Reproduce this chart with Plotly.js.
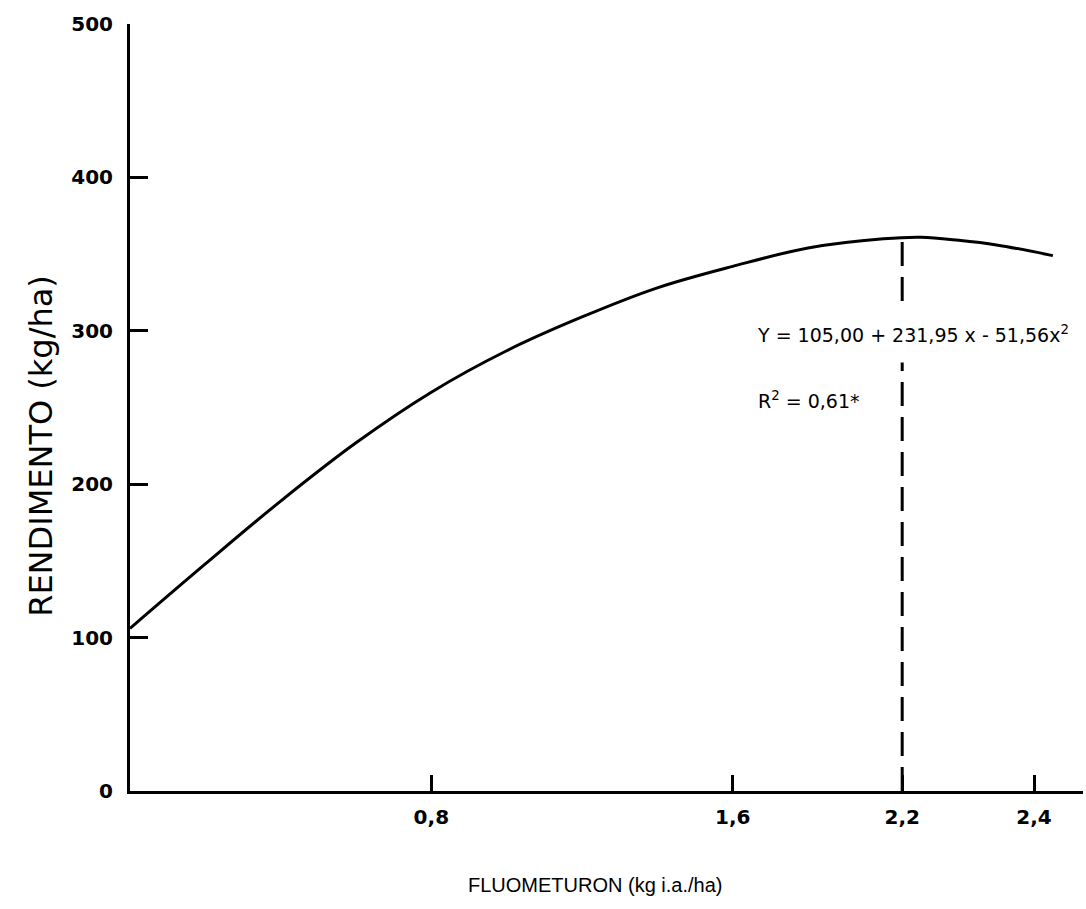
<!DOCTYPE html>
<html>
<head>
<meta charset="utf-8">
<script src="https://cdn.plot.ly/plotly-3.0.1.min.js"></script>
<style>html,body{margin:0;padding:0;background:#fff;}#chart{width:1086px;height:909px;}</style>
</head>
<body>
<div id="chart"></div>
<script>
// Fitted yield curve (dose in kg i.a./ha, yield in kg/ha)
const doseX = [0, 0.2, 0.4, 0.6, 0.8, 1.0, 1.2, 1.4, 1.6, 1.8, 2.0, 2.1, 2.2, 2.3, 2.45];
const yieldY = [106, 148, 189, 227, 260, 287, 309, 328, 342, 354, 360, 361, 359, 356, 349];

// Dashed marker of the dose labelled 2,2
const markerX = [2.05, 2.05];
const markerY = [0, 360];

// Tick labels
const xTickVals = [0.8, 1.6, 2.05, 2.4];
const xTickText = ["0,8", "1,6", "2,2", "2,4"];
const yTickVals = [0, 100, 200, 300, 400, 500];
const yTickText = ["0", "100", "200", "300", "400", "500"];

// Texts
const equationText = "Y = 105,00 + 231,95 x - 51,56x<sup>2</sup>";
const r2Text = "R<sup>2</sup> = 0,61*";
const xTitle = "FLUOMETURON (kg i.a./ha)";
const yTitle = "RENDIMENTO (kg/ha)";

const traces = [
  {x: doseX, y: yieldY, type: "scatter", mode: "lines",
   line: {color: "#000", width: 3, shape: "spline", smoothing: 1.0},
   hoverinfo: "skip", showlegend: false},
  {x: markerX, y: markerY, type: "scatter", mode: "lines",
   line: {color: "#000", width: 3, dash: "24px,11px"},
   hoverinfo: "skip", showlegend: false}
];

const tickFont = {family: "DejaVu Sans, Liberation Sans, Arial, sans-serif", size: 20, color: "#000", weight: "bold"};
const textFont = {family: "DejaVu Sans, Liberation Sans, Arial, sans-serif", size: 19, color: "#000"};

const layout = {
  width: 1086, height: 909,
  margin: {l: 130, r: 3, t: 24, b: 118},
  paper_bgcolor: "#fff", plot_bgcolor: "#fff",
  showlegend: false,
  xaxis: {
    range: [0, 2.53], showgrid: false, zeroline: false,
    showline: true, linecolor: "#000", linewidth: 3,
    ticks: "inside", ticklen: 16, tickwidth: 3, tickcolor: "#000",
    tickvals: xTickVals, ticktext: xTickText, tickfont: tickFont,
    ticklabelstandoff: 6
  },
  yaxis: {
    range: [0, 500], showgrid: false, zeroline: false,
    showline: true, linecolor: "#000", linewidth: 3,
    ticks: "inside", ticklen: 18, tickwidth: 3, tickcolor: "#000",
    tickvals: yTickVals, ticktext: yTickText, tickfont: tickFont,
    ticklabelstandoff: 10
  },
  annotations: [
    {x: 1.619, y: 298, xref: "x", yref: "y", xanchor: "left", yanchor: "middle",
     text: equationText, showarrow: false, bgcolor: "#fff", borderpad: 16,
     font: textFont},
    {x: 1.663, y: 255, xref: "x", yref: "y", xanchor: "left", yanchor: "middle",
     text: r2Text, showarrow: false, font: textFont},
    {x: -0.0934, y: 0.45, xref: "paper", yref: "paper", xanchor: "center", yanchor: "middle",
     textangle: -90, text: yTitle, showarrow: false,
     font: {family: "DejaVu Sans, Liberation Sans, Arial, sans-serif", size: 32, color: "#000"}},
    {x: 0.488, y: -0.1226, xref: "paper", yref: "paper", xanchor: "center", yanchor: "middle",
     text: xTitle, showarrow: false,
     font: {family: "Liberation Sans, Arial, sans-serif", size: 20, color: "#000"}}
  ]
};

Plotly.newPlot("chart", traces, layout, {staticPlot: true, displayModeBar: false});
</script>
</body>
</html>
